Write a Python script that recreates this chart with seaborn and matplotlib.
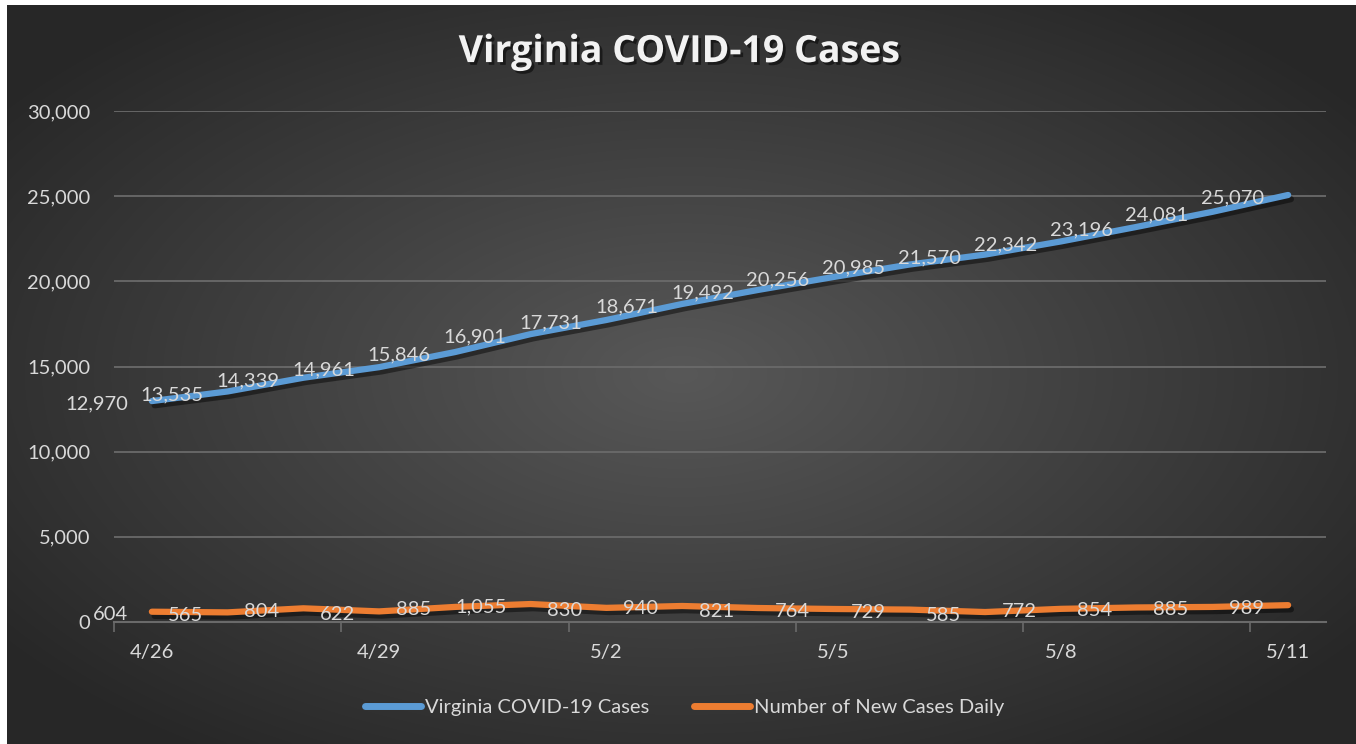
import numpy as np
import pandas as pd
import seaborn as sns
import matplotlib.pyplot as plt
import matplotlib.patheffects as pe

dates = ['4/26', '4/27', '4/28', '4/29', '4/30', '5/1', '5/2', '5/3',
         '5/4', '5/5', '5/6', '5/7', '5/8', '5/9', '5/10', '5/11']
total_cases = [12970, 13535, 14339, 14961, 15846, 16901, 17731, 18671,
               19492, 20256, 20985, 21570, 22342, 23196, 24081, 25070]
new_cases = [604, 565, 804, 622, 885, 1055, 830, 940,
             821, 764, 729, 585, 772, 854, 885, 989]
series_names = ['Virginia COVID-19 Cases', 'Number of New Cases Daily']
colors = ['#5B9BD5', '#ED7D31']

df = pd.DataFrame({
    'day': list(range(len(dates))) * 2,
    'cases': total_cases + new_cases,
    'series': [series_names[0]] * len(dates) + [series_names[1]] * len(dates),
})

sns.set_style('dark')
plt.rcParams['font.family'] = ['Lato', 'DejaVu Sans']
txt = '#d9d9d9'

W, H = 1356, 744
fig = plt.figure(figsize=(W / 100, H / 100), dpi=100)
fig.patch.set_facecolor('white')

# radial gradient background
bg = fig.add_axes([7 / W, 0, 1 - 7 / W, 1 - 5 / H])
yy, xx = np.mgrid[0:1:300j, 0:1:500j]
r = np.sqrt(((xx - 0.5) / 0.5) ** 2 + ((yy - 0.5) / 0.5) ** 2) / np.sqrt(2)
g = 0.345 - (0.345 - 0.155) * np.clip(r / 0.88, 0, 1)
bg.imshow(np.dstack([g, g, g]), aspect='auto', extent=[0, 1, 0, 1], interpolation='bilinear')
bg.axis('off')

ax = fig.add_axes([114 / W, (H - 622) / H, (1326 - 114) / W, (622 - 111) / H])
ax.set_facecolor('none')

sns.lineplot(data=df, x='day', y='cases', hue='series', palette=colors,
             linewidth=4.5, ax=ax, legend=False, zorder=3)
for ln in ax.lines:
    ln.set_solid_capstyle('round')
    ln.set_solid_joinstyle('round')
    ln.set_path_effects([pe.SimpleLineShadow(offset=(2, -3), shadow_color='black', alpha=0.45),
                         pe.Normal()])

# data labels to the left of each point
for vals in (total_cases, new_cases):
    for i, v in enumerate(vals):
        ax.annotate(f'{v:,}', xy=(i, v), xytext=(-24, -3), textcoords='offset pixels',
                    ha='right', va='center', color=txt, fontsize=14.5, zorder=4)

ax.set_xlim(-0.5, len(dates) - 0.5)
ax.set_ylim(0, 30000)
ax.set_yticks(range(0, 30001, 5000))
ax.set_yticklabels([f'{t:,}' for t in range(0, 30001, 5000)])
ax.set_xticks(range(0, len(dates), 3))
ax.set_xticklabels(dates[::3])
ax.set_xticks(np.arange(-0.5, len(dates), 3), minor=True)
ax.tick_params(axis='both', which='major', length=0, colors=txt, labelsize=14.5)
ax.tick_params(axis='y', pad=17)
ax.tick_params(axis='x', pad=16)
ax.tick_params(axis='x', which='minor', length=7, width=1.2, color='#6a6a6a', bottom=True)
ax.grid(axis='y', color='#6a6a6a', linewidth=1.3)
ax.grid(axis='x', visible=False)
for s in ['top', 'right', 'left']:
    ax.spines[s].set_visible(False)
ax.spines['bottom'].set_color('#6a6a6a')
ax.spines['bottom'].set_linewidth(1.5)
ax.set_xlabel('')
ax.set_ylabel('')

fig.text(0.501, 0.93, 'Virginia COVID-19 Cases', ha='center', va='center',
         fontsize=27, fontweight='bold', color='#f2f2f2', family=['Open Sans', 'DejaVu Sans'],
         path_effects=[pe.withSimplePatchShadow(offset=(2, -2), shadow_rgbFace='black', alpha=0.5)])

handles = [plt.Line2D([], [], color=c, linewidth=5, solid_capstyle='round') for c in colors]
fig.legend(handles, series_names, loc='center', bbox_to_anchor=(0.505, (H - 707) / H),
           ncol=2, frameon=False, fontsize=14.5, labelcolor=txt,
           handlelength=2.8, handletextpad=0.2, columnspacing=2.2)

fig.savefig('out.png', dpi=100)
